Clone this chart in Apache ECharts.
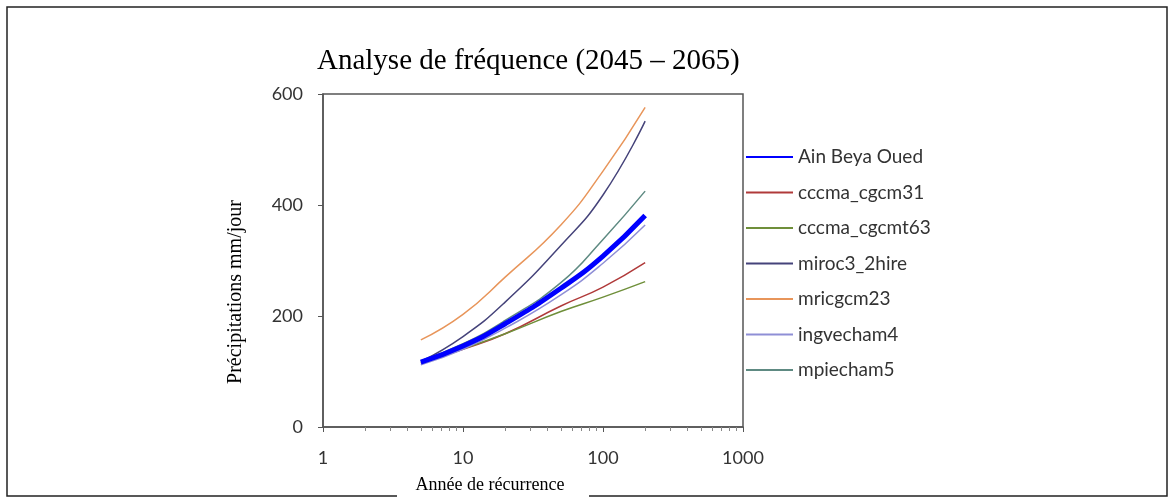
<!DOCTYPE html>
<html>
<head>
<meta charset="utf-8">
<script src="https://cdn.jsdelivr.net/npm/echarts@6/dist/echarts.min.js"></script>
<style>
html,body{margin:0;padding:0;background:#fff;}
#chart{width:1174px;height:498px;}
</style>
</head>
<body>
<div id="chart"></div>
<script>
// Return periods (years)
const returnPeriods = [5, 10, 20, 50, 100, 200];
// Series values (mm/day)
const ainBeyaOued   = [117, 146, 186, 250, 308, 381];
const cccmaCgcm31   = [115, 140, 168, 218, 252, 296];
const cccmaCgcmt63  = [116, 141, 168, 208, 234, 262];
const miroc32hire   = [118, 163, 225, 327, 418, 551];
const mricgcm23     = [157, 203, 270, 364, 461, 576];
const ingvecham4    = [112, 140, 178, 238, 295, 364];
const mpiecham5     = [119, 150, 192, 260, 338, 425];
const seriesNames = ['Ain Beya Oued','cccma_cgcm31','cccma_cgcmt63','miroc3_2hire','mricgcm23','ingvecham4','mpiecham5'];
const seriesValues = [ainBeyaOued, cccmaCgcm31, cccmaCgcmt63, miroc32hire, mricgcm23, ingvecham4, mpiecham5];
const seriesColors = ['#0000ff','#b03a3a','#6f8f3a','#45437a','#e8955a','#8f8fd6','#5e8a82'];
const seriesWidths = [5, 1.5, 1.5, 1.5, 1.5, 1.5, 1.5];
const xTicks = [1, 10, 100, 1000];
const yTicks = [0, 200, 400, 600];
const titleText = 'Analyse de fréquence (2045 – 2065)';
const xAxisTitle = 'Année de récurrence';
const yAxisTitle = 'Précipitations mm/jour';

const chart = echarts.init(document.getElementById('chart'), null, {renderer:'canvas'});

const series = seriesNames.map((name, i) => ({
  name: name,
  type: 'line',
  smooth: true,
  symbol: 'none',
  showSymbol: false,
  z: i === 0 ? 5 : 3,
  lineStyle: {color: seriesColors[i], width: seriesWidths[i]},
  itemStyle: {color: seriesColors[i]},
  data: returnPeriods.map((x, j) => [x, seriesValues[i][j]])
}));

chart.setOption({
  animation: false,
  backgroundColor: '#ffffff',
  title: {
    text: titleText,
    left: 312,
    top: 42,
    textStyle: {fontFamily: 'Liberation Serif', fontSize: 29, fontWeight: 'normal', color: '#000'}
  },
  graphic: [
    {
      type: 'rect',
      z: 100,
      shape: {x: 7, y: 7, width: 1160, height: 489},
      style: {fill: 'none', stroke: '#222', lineWidth: 1.5}
    },
    {
      type: 'rect',
      z: 101,
      shape: {x: 397, y: 472, width: 192, height: 26},
      style: {fill: '#fff', stroke: 'none'}
    },
    {
      type: 'text',
      z: 102,
      x: 490, y: 485,
      style: {text: xAxisTitle, fontFamily: 'Liberation Serif', fontSize: 18, fill: '#000',
        align: 'center', verticalAlign: 'middle'}
    },
    {
      type: 'text',
      z: 102,
      x: 236, y: 292,
      rotation: Math.PI / 2,
      style: {text: yAxisTitle, fontFamily: 'Liberation Serif', fontSize: 20, fill: '#000',
        align: 'center', verticalAlign: 'middle'}
    }
  ],
  legend: {
    orient: 'vertical',
    left: 740,
    top: 142,
    itemWidth: 47,
    itemHeight: 20,
    itemGap: 15.5,
    data: seriesNames,
    itemStyle: {opacity: 0},
    textStyle: {fontFamily: 'Lato', fontSize: 19, lineHeight: 20, color: '#333'}
  },
  grid: {
    left: 323, right: 431, top: 94, bottom: 71,
    show: true, borderColor: '#555', borderWidth: 1.5, backgroundColor: '#fff'
  },
  xAxis: {
    type: 'log',
    logBase: 10,
    min: xTicks[0],
    max: xTicks[xTicks.length - 1],
    axisLine: {show: true, lineStyle: {color: '#555', width: 1.5}},
    axisTick: {show: true, length: 5, lineStyle: {color: '#555'}},
    minorTick: {show: true, splitNumber: 9, length: 4, lineStyle: {color: '#888'}},
    splitLine: {show: false},
    axisLabel: {margin: 22, fontFamily: 'Lato', fontSize: 18, color: '#333',
      formatter: v => String(Math.round(v))}
  },
  yAxis: {
    type: 'value',
    min: yTicks[0],
    max: yTicks[yTicks.length - 1],
    interval: 200,
    axisLine: {show: true, lineStyle: {color: '#555', width: 1.5}},
    axisTick: {show: true, length: 5, lineStyle: {color: '#555'}},
    splitLine: {show: false},
    axisLabel: {margin: 20, fontFamily: 'Lato', fontSize: 18, color: '#333'}
  },
  series: series
});
</script>
</body>
</html>
